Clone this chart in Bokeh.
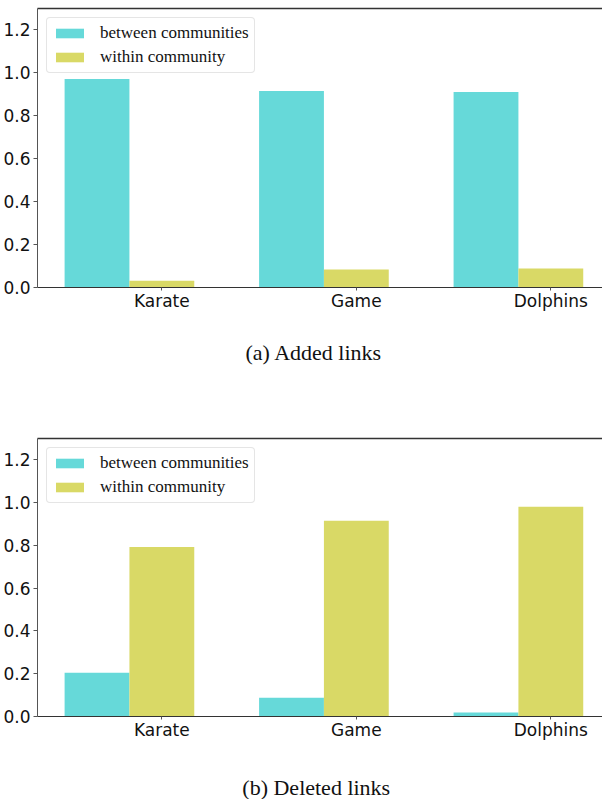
from bokeh.plotting import figure
from bokeh.layouts import column
from bokeh.models import (FixedTicker, PrintfTickFormatter, Range1d, LinearAxis,
                          Legend, LegendItem, Title, ColumnDataSource)
from bokeh.core.properties import value
from bokeh.embed import file_html
from bokeh.resources import INLINE

datasets = ["Karate", "Game", "Dolphins"]
series = ["between communities", "within community"]
added_between = [0.972, 0.916, 0.911]
added_within = [0.031, 0.084, 0.089]
deleted_between = [0.205, 0.088, 0.019]
deleted_within = [0.793, 0.915, 0.981]
y_ticks = [0.0, 0.2, 0.4, 0.6, 0.8, 1.0, 1.2]
captions = ["(a) Added links", "(b) Deleted links"]

CYAN = "#66D9D9"
YELLOW = "#D9D966"
BW = 1 / 3
CAP_FONT = "Liberation Serif"
CAP_SIZE = "22px"


def make_panel(between, within, height, bottom_border):
    p = figure(width=602, height=height, output_backend="svg", toolbar_location=None,
               x_range=Range1d(-0.306, 2.599), y_range=Range1d(0, 1.3),
               min_border_top=8, min_border_right=0, min_border_left=37,
               min_border_bottom=bottom_border)
    p.outline_line_color = None
    p.grid.visible = False
    p.background_fill_color = "white"
    p.border_fill_color = "white"

    idx = list(range(len(datasets)))
    src = ColumnDataSource(dict(
        xb=[i for i in idx], xw=[i + BW for i in idx],
        between=between, within=within, name=datasets))
    rb = p.vbar(x="xb", top="between", width=BW, source=src,
                fill_color=CYAN, line_color=None)
    rw = p.vbar(x="xw", top="within", width=BW, source=src,
                fill_color=YELLOW, line_color=None)

    xa = p.xaxis[0]
    xa.ticker = FixedTicker(ticks=[i + BW for i in idx])
    xa.major_label_overrides = {i + BW: n for i, n in zip(idx, datasets)}
    xa.major_tick_out = 3
    xa.major_tick_in = 0
    xa.major_tick_line_color = "#555555"
    xa.minor_tick_line_color = None
    xa.major_label_standoff = 0
    xa.major_label_text_font = "DejaVu Sans"
    xa.major_label_text_font_size = "17px"
    xa.major_label_text_color = "#111111"
    xa.axis_line_color = "#333333"
    xa.axis_line_width = 1.2

    ya = p.yaxis[0]
    ya.ticker = FixedTicker(ticks=y_ticks)
    ya.formatter = PrintfTickFormatter(format="%.1f")
    ya.major_tick_out = 4
    ya.major_tick_in = 0
    ya.minor_tick_line_color = None
    ya.major_label_standoff = 3
    ya.major_label_text_font = "DejaVu Sans"
    ya.major_label_text_font_size = "17px"
    ya.major_label_text_color = "#111111"
    ya.axis_line_color = "#555555"
    ya.major_tick_line_color = "#555555"

    top = LinearAxis(ticker=FixedTicker(ticks=[]), major_tick_out=0, major_tick_in=0,
                     minor_tick_out=0, major_label_text_font_size="0px",
                     axis_line_color="#333333", axis_line_width=1.5,
                     major_label_standoff=0)
    p.add_layout(top, "above")

    legend = Legend(items=[LegendItem(label=series[0], renderers=[rb]),
                           LegendItem(label=series[1], renderers=[rw])],
                    location="top_left", margin=9, padding=5, spacing=4,
                    glyph_width=35, glyph_height=12, label_height=20,
                    label_standoff=13, label_text_font="Liberation Serif",
                    label_text_font_size="17px", label_text_color="#111111",
                    border_line_color="#cccccc", border_line_width=1.2,
                    background_fill_color="white", background_fill_alpha=1)
    if "border_radius" in Legend.properties():
        legend.border_radius = 4
    p.add_layout(legend)
    return p


# panel (a): caption as a title below the axis
p1 = make_panel(added_between, added_within, 430, 143)
p1.add_layout(Title(text=captions[0], align="left", offset=208, standoff=49,
                    text_font=CAP_FONT, text_font_size=CAP_SIZE,
                    text_font_style="normal", text_color="#111111"), "below")

# panel (b)
p2 = make_panel(deleted_between, deleted_within, 326, 40)

# caption strip for panel (b), centred like caption (a)
pc = figure(width=602, height=43, output_backend="svg", toolbar_location=None,
            x_range=Range1d(0, 602), y_range=Range1d(0, 43),
            min_border=0, min_border_left=0, min_border_right=0,
            min_border_top=0, min_border_bottom=0,
            x_axis_type=None, y_axis_type=None)
pc.outline_line_color = None
pc.grid.visible = False
pc.text(x=[297], y=[12], text=[captions[1]], text_font=value(CAP_FONT),
        text_font_size=CAP_SIZE, text_color="#111111",
        text_align="center", text_baseline="middle")

layout = column(p1, p2, pc, spacing=0)

open("out.html", "w").write(file_html(layout, INLINE))
